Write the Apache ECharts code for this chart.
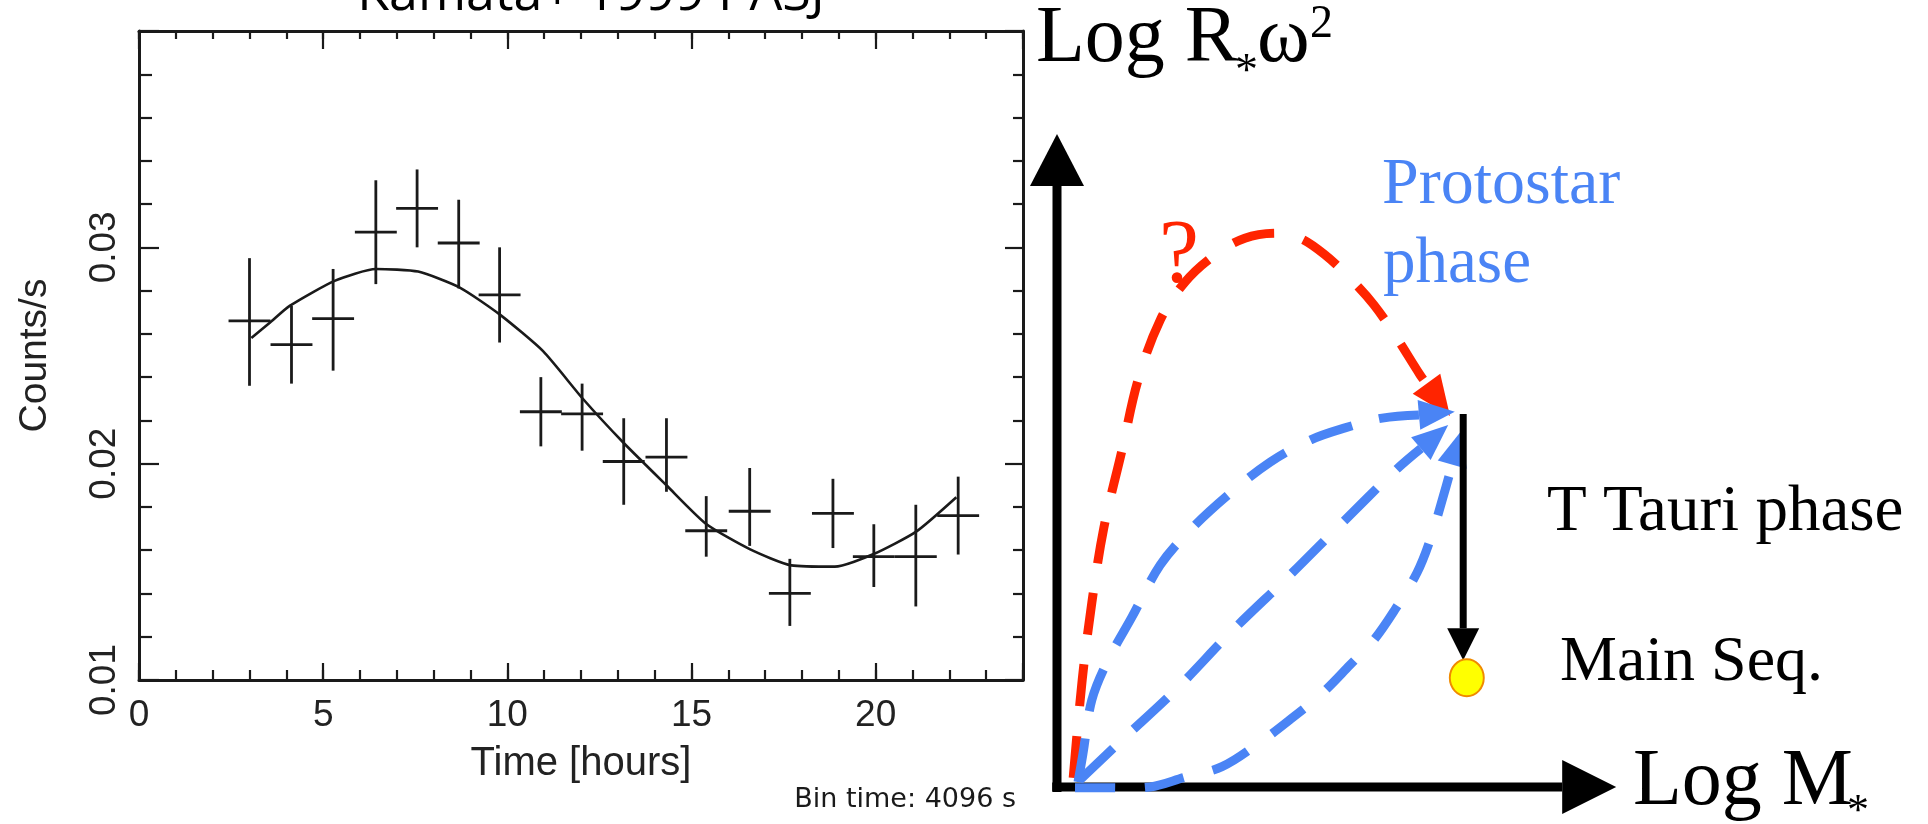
<!DOCTYPE html>
<html><head><meta charset="utf-8">
<script src="https://cdn.jsdelivr.net/npm/echarts@6/dist/echarts.min.js"></script>
<style>html,body{margin:0;padding:0;background:#fff}#c{width:1928px;height:824px}</style>
</head><body><div id="c"></div>
<script>
// ---------- Left panel: X-ray light curve (Kamata+ 1999 PASJ) ----------
const timeHours = [3.00,4.14,5.27,6.43,7.55,8.68,9.79,10.91,12.03,13.16,14.32,15.40,16.58,17.67,18.84,19.95,21.09,22.24];
const countRate = [0.0266,0.0255,0.0267,0.0307,0.0318,0.0302,0.0278,0.0224,0.0223,0.0201,0.0203,0.0169,0.0178,0.0140,0.0177,0.0157,0.0157,0.0176];
const rateHigh  = [0.0295,0.0273,0.0290,0.0331,0.0336,0.0322,0.0300,0.0240,0.0237,0.0221,0.0221,0.0185,0.0198,0.0156,0.0193,0.0172,0.0181,0.0194];
const rateLow   = [0.0236,0.0237,0.0243,0.0283,0.0300,0.0281,0.0256,0.0208,0.0206,0.0181,0.0187,0.0157,0.0162,0.0125,0.0161,0.0143,0.0134,0.0158];
const binHalfWidthHours = 0.569; // bin time 4096 s
const fitTime = [3.05,3.55,4.09,5.31,6.43,7.58,8.71,9.79,10.97,12.05,13.14,14.32,15.40,16.58,17.71,18.89,19.93,21.10,22.19];
const fitRate = [0.02581,0.02651,0.02729,0.02845,0.02900,0.02888,0.02814,0.02690,0.02520,0.02300,0.02099,0.01900,0.01721,0.01605,0.01530,0.01524,0.01581,0.01686,0.01845];
const xTickLabels = ['0','5','10','15','20'];
const yTickLabels = ['0.01','0.02','0.03'];

// ---------- Right panel: schematic (Log M*, Log R*w^2), arbitrary units ----------
const redTrack   = [[0.27,0.13],[0.42,1.53],[0.58,2.63],[0.78,3.70],[1.08,4.80],[1.35,5.81],[1.72,6.67],[2.13,7.21],[2.63,7.60],[3.13,7.84],[3.65,7.91],[4.05,7.84],[4.47,7.60],[4.88,7.27],[5.28,6.89],[5.63,6.46],[6.05,5.89],[6.55,5.30]];
const blueTrackA = [[0.35,0.07],[0.43,0.46],[0.58,1.24],[0.85,1.81],[1.25,2.43],[1.72,3.17],[2.22,3.67],[2.85,4.17],[3.55,4.64],[4.23,4.96],[4.80,5.13],[5.42,5.27],[6.05,5.34],[6.63,5.36]];
const blueTrackB = [[0.38,0.10],[1.08,0.67],[1.98,1.39],[2.93,2.24],[3.85,3.00],[4.75,3.77],[5.65,4.53],[6.52,5.17]];
const blueTrackC = [[0.30,-0.01],[0.88,-0.01],[1.55,0.00],[2.13,0.14],[2.75,0.29],[3.37,0.63],[3.88,0.96],[4.42,1.34],[4.88,1.74],[5.28,2.10],[5.63,2.53],[6.00,3.06],[6.22,3.53],[6.42,4.10],[6.58,4.60],[6.75,5.10]];
const tTauriTrack = [[6.77,5.33],[6.77,1.81]];
const mainSeqPoint = [6.83,1.56];
const axisRTrack = [[0,-0.07],[0,9.33]];
const axisMTrack = [[-0.08,0],[9.32,0]];

const INK = '#1a1a1a', RED = '#ff2400', BLUE = '#4a84f5';
const SANS = '"Liberation Sans", Arial, sans-serif';
const SERIF = '"Liberation Serif", "Times New Roman", serif';

const chart = echarts.init(document.getElementById('c'), null, {renderer:'canvas'});

function frameAxis(pos, tickLen, interval, showLine, extra){
  return Object.assign({
    type:'value', gridIndex:0, position:pos, min:0, max:24, interval:interval,
    axisLine:{show:showLine, onZero:false, lineStyle:{color:INK, width:3}},
    axisTick:{show:true, inside:true, length:tickLen, lineStyle:{color:INK, width:2.2}},
    axisLabel:{show:false}, splitLine:{show:false}
  }, extra||{});
}

function trackSeries(track, color, width, dash, headLen, headHalf, z){
  return {
    type:'custom', coordinateSystem:'cartesian2d', xAxisIndex:4, yAxisIndex:2,
    data:[track[0]], silent:true, z:z, animation:false,
    renderItem:function(params, api){
      const pts = track.map(p => api.coord(p));
      const tip = pts[pts.length-1];
      const kept = [];
      for (let i=0;i<pts.length-1;i++){
        if (Math.hypot(pts[i][0]-tip[0], pts[i][1]-tip[1]) > headLen*1.05) kept.push(pts[i]);
      }
      const ref = kept[kept.length-1];
      let dx = tip[0]-ref[0], dy = tip[1]-ref[1];
      const L = Math.hypot(dx,dy); dx/=L; dy/=L;
      const base = [tip[0]-dx*headLen, tip[1]-dy*headLen];
      const linePts = kept.concat([base]);
      return {type:'group', children:[
        {type:'polyline', shape:{points:linePts, smooth: dash ? 0.35 : 0},
         style:{stroke:color, lineWidth:width, fill:null, lineDash:dash||null, lineCap:'butt'}},
        {type:'polygon', shape:{points:[tip,[base[0]-dy*headHalf, base[1]+dx*headHalf],[base[0]+dy*headHalf, base[1]-dx*headHalf]]},
         style:{fill:color}}
      ]};
    }
  };
}

const option = {
  backgroundColor:'#ffffff',
  animation:false,
  grid:[
    {left:139, top:31, width:884, height:649, outerBoundsMode:'none', containLabel:false},
    {left:1057, top:87, width:600, height:700, outerBoundsMode:'none', containLabel:false}
  ],
  xAxis:[
    frameAxis('bottom', 10, 1, true, {
      name:'Time [hours]', nameLocation:'middle', nameGap:64,
      nameTextStyle:{fontFamily:SANS, fontSize:40, color:'#222'},
      axisLabel:{show:true, margin:17, fontFamily:SANS, fontSize:37, color:'#222',
        formatter:v => xTickLabels.includes(String(v)) ? String(v) : ''}
    }),
    frameAxis('bottom', 17, 5, false),
    frameAxis('top', 8, 1, true),
    frameAxis('top', 18, 5, false),
    {type:'value', gridIndex:1, min:0, max:10, show:false}
  ],
  yAxis:[
    {type:'value', gridIndex:0, position:'left', min:0.01, max:0.04, interval:0.01,
     name:'Counts/s', nameLocation:'middle', nameGap:84,
     nameTextStyle:{fontFamily:SANS, fontSize:39, color:'#222'},
     axisLine:{show:true, onZero:false, lineStyle:{color:INK, width:3}},
     axisTick:{show:true, inside:true, length:20, lineStyle:{color:INK, width:2.2}},
     minorTick:{show:true, splitNumber:5, length:13, lineStyle:{color:INK, width:2.2}},
     axisLabel:{show:true, rotate:90, margin:16, fontFamily:SANS, fontSize:37, color:'#222',
       formatter:v => { const s = v.toFixed(2); return yTickLabels.includes(s) ? s : ''; }},
     splitLine:{show:false}, minorSplitLine:{show:false}},
    {type:'value', gridIndex:0, position:'right', min:0.01, max:0.04, interval:0.01,
     axisLine:{show:true, onZero:false, lineStyle:{color:INK, width:3}},
     axisTick:{show:true, inside:true, length:18, lineStyle:{color:INK, width:2.2}},
     minorTick:{show:true, splitNumber:5, length:10, lineStyle:{color:INK, width:2.2}},
     axisLabel:{show:false}, splitLine:{show:false}},
    {type:'value', gridIndex:1, min:0, max:10, show:false}
  ],
  series:[
    {type:'line', xAxisIndex:0, yAxisIndex:0, data:fitTime.map((t,i)=>[t, fitRate[i]]),
     showSymbol:false, smooth:0.2, lineStyle:{color:INK, width:2.6}, silent:true, z:3},
    {type:'custom', xAxisIndex:0, yAxisIndex:0, silent:true, z:4,
     dimensions:['t','rate','lo','hi'], encode:{x:0, y:1},
     data:timeHours.map((t,i)=>[t, countRate[i], rateLow[i], rateHigh[i]]),
     renderItem:function(params, api){
       const t = api.value(0), r = api.value(1), lo = api.value(2), hi = api.value(3);
       const pL = api.coord([t-binHalfWidthHours, r]), pR = api.coord([t+binHalfWidthHours, r]);
       const pT = api.coord([t, hi]), pB = api.coord([t, lo]);
       const st = {stroke:INK, lineWidth:2.8};
       return {type:'group', children:[
         {type:'line', shape:{x1:pL[0], y1:pL[1], x2:pR[0], y2:pR[1]}, style:st},
         {type:'line', shape:{x1:pT[0], y1:pT[1], x2:pB[0], y2:pB[1]}, style:st}
       ]};
     }},
    trackSeries(axisRTrack, '#000', 9, null, 52, 27, 10),
    trackSeries(axisMTrack, '#000', 9, null, 54, 27, 10),
    trackSeries(redTrack, RED, 9, [42,30], 40, 17, 11),
    trackSeries(blueTrackA, BLUE, 9, [44,28], 36, 15, 12),
    trackSeries(blueTrackB, BLUE, 9, [46,28], 36, 15, 12),
    trackSeries(blueTrackC, BLUE, 9, [40,30], 36, 15, 12),
    trackSeries(tTauriTrack, '#000', 7, null, 32, 16, 13),
    {type:'scatter', xAxisIndex:4, yAxisIndex:2, data:[mainSeqPoint], symbol:'circle', symbolSize:[34,37],
     itemStyle:{color:'#ffff00', borderColor:'#f08a00', borderWidth:2, opacity:1}, silent:true, z:14}
  ],
  graphic:[
    {type:'text', x:591, y:-5, style:{text:'Kamata+ 1999 PASJ', fontFamily:'"Open Sans", sans-serif', fontSize:52, fill:'#000', align:'center', verticalAlign:'middle'}},
    {type:'text', x:1016, y:800, style:{text:'Bin time: 4096 s', fontFamily:'"DejaVu Sans", sans-serif', fontSize:27, fill:'#1a1a1a', align:'right', verticalAlign:'middle'}},
    {type:'text', x:1036, y:40, style:{text:'Log R', fontFamily:SERIF, fontSize:80, fill:'#000', align:'left', verticalAlign:'middle'}},
    {type:'text', x:1235, y:73, style:{text:'*', fontFamily:SERIF, fontSize:46, fill:'#000', align:'left', verticalAlign:'middle'}},
    {type:'text', x:1257, y:40, style:{text:'ω', fontFamily:SERIF, fontSize:80, fill:'#000', align:'left', verticalAlign:'middle'}},
    {type:'text', x:1310, y:25, style:{text:'2', fontFamily:SERIF, fontSize:46, fill:'#000', align:'left', verticalAlign:'middle'}},
    {type:'text', x:1633, y:783, style:{text:'Log M', fontFamily:SERIF, fontSize:80, fill:'#000', align:'left', verticalAlign:'middle'}},
    {type:'text', x:1847, y:812, style:{text:'*', fontFamily:SERIF, fontSize:44, fill:'#000', align:'left', verticalAlign:'middle'}},
    {type:'text', x:1382, y:186, style:{text:'Protostar', fontFamily:SERIF, fontSize:66, fill:BLUE, align:'left', verticalAlign:'middle'}},
    {type:'text', x:1383, y:265, style:{text:'phase', fontFamily:SERIF, fontSize:65, fill:BLUE, align:'left', verticalAlign:'middle'}},
    {type:'text', x:1179, y:258, style:{text:'?', fontFamily:SERIF, fontSize:90, fill:RED, align:'center', verticalAlign:'middle'}},
    {type:'text', x:1547, y:513, style:{text:'T Tauri phase', fontFamily:SERIF, fontSize:65, fill:'#000', align:'left', verticalAlign:'middle'}},
    {type:'text', x:1560, y:663, style:{text:'Main Seq.', fontFamily:SERIF, fontSize:64, fill:'#000', align:'left', verticalAlign:'middle'}}
  ]
};
chart.setOption(option);
</script></body></html>
